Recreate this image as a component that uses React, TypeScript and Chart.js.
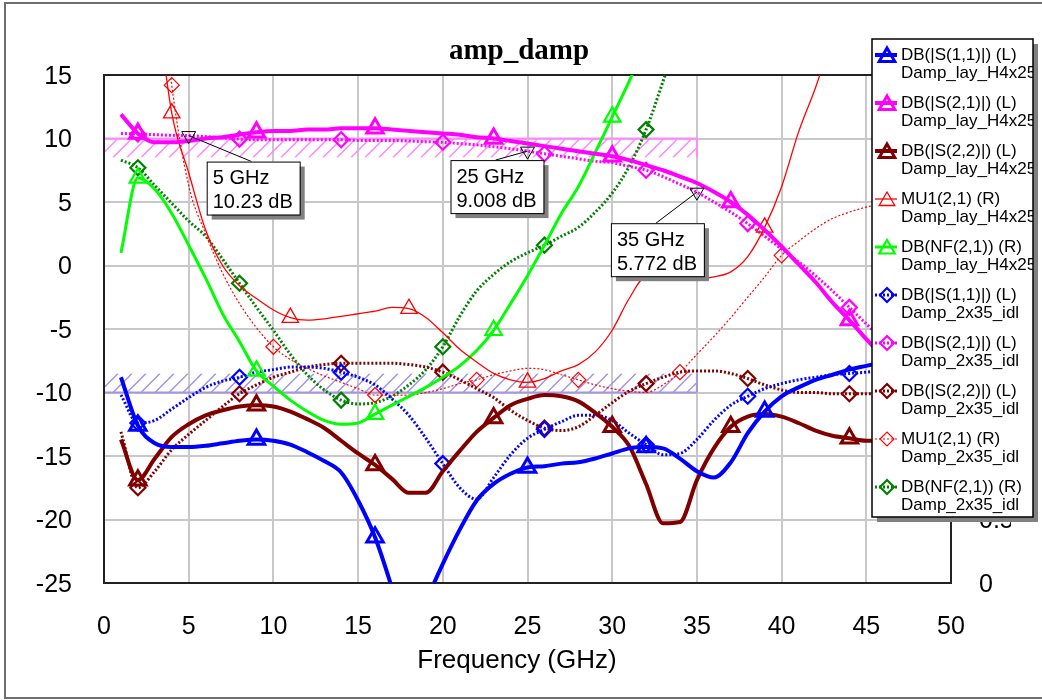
import React, { useEffect, useRef } from "react";
import { Chart, registerables } from "chart.js";

Chart.register(...registerables);

// Swept frequency points (GHz)
const FREQ_GHZ = [
  1, 2, 3, 4, 5, 6, 7, 8, 9, 10, 11, 12, 13, 14, 15, 16, 17, 18, 19, 20, 21, 22, 23, 24, 25,
  26, 27, 28, 29, 30, 31, 32, 33, 34, 35, 36, 37, 38, 39, 40, 41, 42, 43, 44, 45, 46, 47, 48, 49, 50,
];

// Axis tick values
const X_TICKS = [0, 5, 10, 15, 20, 25, 30, 35, 40, 45, 50];
const Y_LEFT_TICKS = [-25, -20, -15, -10, -5, 0, 5, 10, 15];
const Y_RIGHT_TICKS = [0, 0.5, 1, 1.5, 2, 2.5, 3, 3.5, 4];

// Damp_lay_H4x25 (left axis, dB)
const S11_LAY = [
  -8.8, -12.6, -14.0, -14.3, -14.3, -14.2, -14.0, -13.8, -13.7, -13.8,
  -14.1, -14.7, -15.4, -16.3, -18.5, -21.4, -25.4, -30.0, -26.5, -23.5,
  -20.8, -18.5, -17.2, -16.4, -15.9, -15.8, -15.6, -15.5, -15.2, -14.8,
  -14.4, -14.3, -14.4, -15.2, -16.2, -16.7, -15.5, -13.2, -11.5, -10.3,
  -9.6, -9.0, -8.6, -8.2, -7.9, -7.6, -7.3, -7.0, -6.8, -6.6,
];
const S21_LAY = [
  11.9, 10.4, 9.7, 9.7, 9.8, 10.0, 10.1, 10.3, 10.5, 10.6,
  10.6, 10.7, 10.7, 10.8, 10.8, 10.8, 10.7, 10.6, 10.5, 10.4,
  10.3, 10.1, 10.0, 9.8, 9.6, 9.4, 9.2, 9.0, 8.8, 8.6,
  8.3, 7.9, 7.5, 7.0, 6.5, 5.8, 5.0, 4.0, 2.8, 1.5,
  0.1, -1.3, -2.9, -4.3, -5.8, -7.2, -8.5, -9.8, -11.0, -12.2,
];
const S22_LAY = [
  -13.7, -16.9, -15.2, -13.5, -12.5, -11.8, -11.4, -11.1, -11.0, -11.1,
  -11.5, -12.1, -12.8, -13.8, -14.8, -15.7, -16.8, -17.9, -17.9, -16.2,
  -14.6, -13.1, -12.0, -11.0, -10.5, -10.2, -10.3, -10.7, -11.6, -12.7,
  -14.2, -17.2, -20.3, -20.2, -16.9, -14.4, -12.7, -11.9, -11.7, -11.9,
  -12.4, -13.0, -13.4, -13.6, -13.8, -13.8, -13.8, -13.8, -13.8, -13.8,
];
// Damp_lay_H4x25 (right axis)
const MU1_LAY = [
  null, null, 4.7, 3.7, 3.23, 2.78, 2.5, 2.34, 2.24, 2.15,
  2.09, 2.07, 2.08, 2.1, 2.12, 2.14, 2.17, 2.16, 2.09, 1.97,
  1.84, 1.74, 1.65, 1.6, 1.58, 1.61, 1.67, 1.72, 1.82, 1.99,
  2.24, 2.41, 2.4, 2.39, 2.39, 2.41, 2.45, 2.57, 2.8, 3.12,
  3.55, 3.9, 4.3, null, null, null, null, null, null, null,
];
const NF_LAY = [
  2.6, 3.19, 3.1, 2.91, 2.66, 2.4, 2.12, 1.9, 1.67, 1.55,
  1.44, 1.35, 1.28, 1.25, 1.26, 1.33, 1.4, 1.47, 1.54, 1.62,
  1.71, 1.83, 1.99, 2.2, 2.42, 2.66, 2.91, 3.12, 3.39, 3.67,
  3.95, 4.25, 4.56, null, null, null, null, null, null, null,
  null, null, null, null, null, null, null, null, null, null,
];

// Damp_2x35_idl (left axis, dB)
const S11_IDL = [
  -10.2, -12.4, -12.2, -11.3, -10.4, -9.6, -9.1, -8.8, -8.4, -8.2,
  -8.0, -8.0, -8.1, -8.4, -8.8, -9.4, -10.5, -11.8, -13.6, -15.6,
  -17.5, -18.4, -16.7, -14.9, -13.6, -12.9, -12.3, -11.8, -11.8, -12.2,
  -13.2, -14.1, -14.9, -14.8, -13.7, -12.2, -11.0, -10.3, -9.7, -9.3,
  -9.0, -8.8, -8.6, -8.5, -8.4, -8.3, -8.3, -8.3, -8.3, -8.3,
];
const S21_IDL = [
  10.4, 10.35, 10.3, 10.25, 10.23, 10.15, 10.05, 9.95, 9.9, 9.9,
  9.9, 9.9, 9.9, 9.9, 9.85, 9.85, 9.85, 9.8, 9.75, 9.7,
  9.6, 9.5, 9.35, 9.2, 9.008, 8.8, 8.6, 8.4, 8.2, 8.1,
  7.8, 7.5, 7.0, 6.4, 5.772, 5.0, 4.2, 3.3, 2.3, 1.3,
  0.3, -0.8, -2.0, -3.3, -4.6, -5.9, -7.1, -8.3, -9.5, -10.6,
];
const S22_IDL = [
  -13.1, -17.5, -16.2, -14.5, -13.3, -12.2, -11.1, -10.1, -9.4, -8.8,
  -8.4, -8.0, -7.8, -7.7, -7.7, -7.7, -7.7, -7.8, -8.0, -8.4,
  -9.0, -9.7, -10.4, -11.4, -12.2, -12.8, -13.0, -12.7, -11.8, -10.8,
  -9.9, -9.3, -8.8, -8.4, -8.3, -8.3, -8.5, -8.9, -9.4, -9.8,
  -10.0, -10.0, -10.1, -10.1, -10.1, -10.1, -10.1, -10.1, -10.1, -10.1,
];
// Damp_2x35_idl (right axis)
const MU1_IDL = [
  null, null, 5.2, 3.92, 3.13, 2.75, 2.44, 2.2, 2.01, 1.86,
  1.76, 1.69, 1.63, 1.58, 1.53, 1.48, 1.48, 1.48, 1.5, 1.53,
  1.57, 1.6, 1.64, 1.67, 1.69, 1.68, 1.64, 1.6, 1.56, 1.53,
  1.51, 1.5, 1.56, 1.66, 1.8, 1.94, 2.09, 2.25, 2.41, 2.58,
  2.69, 2.79, 2.87, 2.92, 2.96, 2.99, 3.02, 3.04, 3.06, 3.08,
];
const NF_IDL = [
  3.33, 3.27, 3.13, 2.99, 2.85, 2.73, 2.55, 2.36, 2.17, 1.99,
  1.8, 1.64, 1.52, 1.44, 1.41, 1.42, 1.47, 1.56, 1.68, 1.86,
  2.1, 2.3, 2.43, 2.53, 2.6, 2.66, 2.73, 2.8, 2.92, 3.07,
  3.28, 3.57, 3.95, 4.35, null, null, null, null, null, null,
  null, null, null, null, null, null, null, null, null, null,
];

// Frequencies carrying a trace symbol
const MARK_S11_LAY = [2, 9, 16, 25, 32, 39, 46];
const MARK_S21_LAY = [2, 9, 16, 23, 30, 37, 44];
const MARK_S22_LAY = [2, 9, 16, 23, 30, 37, 44];
const MARK_MU1_LAY = [4, 11, 18, 25, 39];
const MARK_NF_LAY = [2, 9, 16, 23, 30];
const MARK_S11_IDL = [2, 8, 14, 20, 26, 32, 38, 44, 50];
const MARK_S21_IDL = [2, 8, 14, 20, 26, 32, 38, 44, 50];
const MARK_S22_IDL = [2, 8, 14, 20, 26, 32, 38, 44, 50];
const MARK_MU1_IDL = [4, 10, 16, 22, 28, 34, 40, 46];
const MARK_NF_IDL = [2, 8, 14, 20, 26, 32];

// Optimization goals (left axis): ">" must stay above level, "<" must stay below
const GOAL_START_GHZ = [0, 0];
const GOAL_STOP_GHZ = [35, 35];
const GOAL_LEVEL_DB = [10, -10];
const GOAL_TYPE = [">", "<"];
const GOAL_COLOR = ["#ff88ff", "#a596e2"];

// Readout markers on DB(|S(2,1)|) Damp_2x35_idl
const MARKER_FREQ_GHZ = [5, 25, 35];
const MARKER_VALUE_DB = [10.23, 9.008, 5.772];
const MARKER_BOX_OFFSET = [
  [18, 26],
  [-77, 9],
  [-86, 31],
];

type Trace = {
  label: string;
  source: string;
  values: (number | null)[];
  axis: "y" | "y2";
  color: string;
  width: number;
  dash: number[];
  symbol: "triangle" | "rectRot";
  symbolRadius: number;
  symbolWidth: number;
  marks: number[];
};

const LAY = "Damp_lay_H4x25";
const IDL = "Damp_2x35_idl";
const DOT = [2, 2];

const TRACES: Trace[] = [
  { label: "DB(|S(1,1)|) (L)", source: LAY, values: S11_LAY, axis: "y", color: "#0000ff", width: 4, dash: [], symbol: "triangle", symbolRadius: 9.5, symbolWidth: 3, marks: MARK_S11_LAY },
  { label: "DB(|S(2,1)|) (L)", source: LAY, values: S21_LAY, axis: "y", color: "#ff00ff", width: 4, dash: [], symbol: "triangle", symbolRadius: 9.5, symbolWidth: 3, marks: MARK_S21_LAY },
  { label: "DB(|S(2,2)|) (L)", source: LAY, values: S22_LAY, axis: "y", color: "#800000", width: 4, dash: [], symbol: "triangle", symbolRadius: 9.5, symbolWidth: 3, marks: MARK_S22_LAY },
  { label: "MU1(2,1) (R)", source: LAY, values: MU1_LAY, axis: "y2", color: "#ff0000", width: 1.3, dash: [], symbol: "triangle", symbolRadius: 9.5, symbolWidth: 1.3, marks: MARK_MU1_LAY },
  { label: "DB(NF(2,1)) (R)", source: LAY, values: NF_LAY, axis: "y2", color: "#00ff00", width: 3, dash: [], symbol: "triangle", symbolRadius: 9.5, symbolWidth: 2.2, marks: MARK_NF_LAY },
  { label: "DB(|S(1,1)|) (L)", source: IDL, values: S11_IDL, axis: "y", color: "#0000ff", width: 3, dash: DOT, symbol: "rectRot", symbolRadius: 7.5, symbolWidth: 2.2, marks: MARK_S11_IDL },
  { label: "DB(|S(2,1)|) (L)", source: IDL, values: S21_IDL, axis: "y", color: "#ff00ff", width: 3, dash: DOT, symbol: "rectRot", symbolRadius: 7.5, symbolWidth: 2.2, marks: MARK_S21_IDL },
  { label: "DB(|S(2,2)|) (L)", source: IDL, values: S22_IDL, axis: "y", color: "#800000", width: 3, dash: DOT, symbol: "rectRot", symbolRadius: 7.5, symbolWidth: 2.2, marks: MARK_S22_IDL },
  { label: "MU1(2,1) (R)", source: IDL, values: MU1_IDL, axis: "y2", color: "#ff0000", width: 1.2, dash: DOT, symbol: "rectRot", symbolRadius: 7.5, symbolWidth: 1.2, marks: MARK_MU1_IDL },
  { label: "DB(NF(2,1)) (R)", source: IDL, values: NF_IDL, axis: "y2", color: "#008000", width: 3, dash: DOT, symbol: "rectRot", symbolRadius: 7.5, symbolWidth: 2.2, marks: MARK_NF_IDL },
];

const SANS = '"Liberation Sans", Arial, sans-serif';

function symbolPath(ctx: CanvasRenderingContext2D, symbol: string, x: number, y: number, r: number) {
  ctx.beginPath();
  if (symbol === "triangle") {
    ctx.moveTo(x, y - r);
    ctx.lineTo(x + r * Math.sin((2 * Math.PI) / 3), y + r / 2);
    ctx.lineTo(x - r * Math.sin((2 * Math.PI) / 3), y + r / 2);
  } else {
    ctx.moveTo(x - r, y);
    ctx.lineTo(x, y - r);
    ctx.lineTo(x + r, y);
    ctx.lineTo(x, y + r);
  }
  ctx.closePath();
}

const backgroundPlugin = {
  id: "background",
  beforeDraw(chart: any) {
    const { ctx, width, height } = chart;
    ctx.save();
    ctx.fillStyle = "#ffffff";
    ctx.fillRect(0, 0, width, height);
    ctx.restore();
  },
};

// Hatched goal bands and plot frame, beneath the traces
const goalPlugin = {
  id: "goals",
  beforeDatasetsDraw(chart: any) {
    const { ctx, chartArea, scales } = chart;
    const band = 19;
    const pitch = 14;
    ctx.save();
    ctx.beginPath();
    ctx.rect(chartArea.left, chartArea.top, chartArea.right - chartArea.left, chartArea.bottom - chartArea.top);
    ctx.clip();
    GOAL_LEVEL_DB.forEach((level, i) => {
      const x0 = scales.x.getPixelForValue(GOAL_START_GHZ[i]);
      const x1 = scales.x.getPixelForValue(GOAL_STOP_GHZ[i]);
      const yl = scales.y.getPixelForValue(level);
      const yTop = GOAL_TYPE[i] === ">" ? yl : yl - band;
      const yBot = yTop + band;
      ctx.strokeStyle = GOAL_COLOR[i];
      ctx.lineWidth = 2;
      ctx.beginPath();
      ctx.moveTo(x0, yl);
      ctx.lineTo(x1, yl);
      ctx.moveTo(x1, yTop);
      ctx.lineTo(x1, yBot);
      ctx.stroke();
      ctx.save();
      ctx.beginPath();
      ctx.rect(x0, yTop, x1 - x0, band);
      ctx.clip();
      ctx.lineWidth = 1.5;
      ctx.beginPath();
      for (let hx = x0 - band; hx < x1 + band; hx += pitch) {
        ctx.moveTo(hx, yBot);
        ctx.lineTo(hx + band, yTop);
      }
      ctx.stroke();
      ctx.restore();
    });
    ctx.restore();

    ctx.save();
    ctx.strokeStyle = "#222222";
    ctx.lineWidth = 2;
    ctx.strokeRect(chartArea.left, chartArea.top, chartArea.right - chartArea.left, chartArea.bottom - chartArea.top);
    ctx.restore();
  },
};

// Marker readout boxes
const markerPlugin = {
  id: "readouts",
  afterDatasetsDraw(chart: any) {
    const { ctx, scales } = chart;
    const bw = 93;
    const bh = 53;
    ctx.save();
    MARKER_FREQ_GHZ.forEach((f, i) => {
      const px = scales.x.getPixelForValue(f);
      const py = scales.y.getPixelForValue(MARKER_VALUE_DB[i]);
      const bx = px + MARKER_BOX_OFFSET[i][0];
      const by = py + MARKER_BOX_OFFSET[i][1];
      // leader
      ctx.strokeStyle = "#000000";
      ctx.lineWidth = 1;
      ctx.beginPath();
      ctx.moveTo(bx + 45, by);
      ctx.lineTo(px, py);
      ctx.stroke();
      // inverted triangle
      ctx.beginPath();
      ctx.moveTo(px - 7, py - 4);
      ctx.lineTo(px + 7, py - 4);
      ctx.lineTo(px, py + 8);
      ctx.closePath();
      ctx.stroke();
      // box
      ctx.fillStyle = "#808080";
      ctx.fillRect(bx + 5, by + 5, bw, bh);
      ctx.fillStyle = "#ffffff";
      ctx.fillRect(bx, by, bw, bh);
      ctx.strokeRect(bx + 0.5, by + 0.5, bw, bh);
      ctx.fillStyle = "#000000";
      ctx.font = `20px ${SANS}`;
      ctx.textAlign = "left";
      ctx.textBaseline = "middle";
      ctx.fillText(`${f} GHz`, bx + 6, by + 17);
      ctx.fillText(`${MARKER_VALUE_DB[i]} dB`, bx + 6, by + 41);
    });
    ctx.restore();
  },
};

// Title, axis caption, legend and outer frame
const decorPlugin = {
  id: "decor",
  afterDraw(chart: any) {
    const { ctx } = chart;
    ctx.save();
    ctx.fillStyle = "#000000";
    ctx.textAlign = "center";
    ctx.textBaseline = "alphabetic";
    ctx.font = `bold 29px "Liberation Serif", "Times New Roman", serif`;
    ctx.fillText("amp_damp", 519, 59);
    ctx.font = `26px ${SANS}`;
    ctx.fillText("Frequency (GHz)", 517, 668);

    // legend
    const lx = 872;
    const ly = 39;
    const lw = 161;
    const lh = 478;
    ctx.fillStyle = "#808080";
    ctx.fillRect(lx + 5, ly + 5, lw, lh);
    ctx.fillStyle = "#ffffff";
    ctx.fillRect(lx, ly, lw, lh);
    ctx.strokeStyle = "#000000";
    ctx.lineWidth = 1.5;
    ctx.strokeRect(lx, ly, lw, lh);

    ctx.save();
    ctx.beginPath();
    ctx.rect(lx, ly, lw, lh);
    ctx.clip();
    TRACES.forEach((t, i) => {
      const y = ly + 16 + i * 48;
      ctx.strokeStyle = t.color;
      ctx.lineWidth = t.width;
      ctx.setLineDash(t.dash);
      ctx.beginPath();
      ctx.moveTo(lx + 3, y);
      ctx.lineTo(lx + 25, y);
      ctx.stroke();
      ctx.setLineDash([]);
      ctx.lineWidth = t.symbolWidth;
      symbolPath(ctx, t.symbol, lx + 15, y + (t.symbol === "triangle" ? 2 : 0), t.symbol === "triangle" ? 9 : 7);
      ctx.stroke();
      ctx.fillStyle = "#000000";
      ctx.font = `17px ${SANS}`;
      ctx.textAlign = "left";
      ctx.textBaseline = "middle";
      ctx.fillText(t.label, lx + 29, y);
      ctx.fillText(t.source, lx + 29, y + 18);
    });
    ctx.restore();

    // outer frame
    ctx.strokeStyle = "#6e6e6e";
    ctx.lineWidth = 2;
    ctx.strokeRect(5, 3, 1050, 695);
    ctx.restore();
  },
};

const tickFont = { family: SANS, size: 25 };

export default function App() {
  const canvasRef = useRef<HTMLCanvasElement>(null);

  useEffect(() => {
    const canvas = canvasRef.current;
    if (!canvas) return;

    const datasets = TRACES.map((t) => ({
      label: `${t.label} ${t.source}`,
      data: FREQ_GHZ.map((f, i) => ({ x: f, y: t.values[i] })),
      yAxisID: t.axis,
      borderColor: t.color,
      borderWidth: t.width,
      borderDash: t.dash,
      backgroundColor: "rgba(0,0,0,0)",
      fill: false,
      cubicInterpolationMode: "monotone" as const,
      pointStyle: t.symbol,
      pointBorderColor: t.color,
      pointBackgroundColor: "rgba(0,0,0,0)",
      pointBorderWidth: t.symbolWidth,
      pointRadius: (c: any) => (t.marks.includes(FREQ_GHZ[c.dataIndex]) ? t.symbolRadius : 0),
      pointHoverRadius: 0,
    }));

    const chart = new Chart(canvas, {
      type: "line",
      data: { datasets: datasets as any },
      options: {
        responsive: false,
        animation: false,
        devicePixelRatio: 1,
        events: [],
        layout: { padding: { left: 0, top: 75, right: 31, bottom: 0 } },
        plugins: { legend: { display: false }, tooltip: { enabled: false }, title: { display: false } },
        scales: {
          x: {
            type: "linear",
            min: 0,
            max: 50,
            afterBuildTicks: (s: any) => {
              s.ticks = X_TICKS.map((v) => ({ value: v }));
            },
            afterFit: (s: any) => {
              s.height = 117;
            },
            ticks: { font: tickFont, color: "#000000", padding: 29, maxRotation: 0, autoSkip: false },
            grid: { color: "#c8c8c8", lineWidth: 2, drawTicks: false },
            border: { display: false },
          },
          y: {
            type: "linear",
            position: "left",
            min: -25,
            max: 15,
            afterBuildTicks: (s: any) => {
              s.ticks = Y_LEFT_TICKS.map((v) => ({ value: v }));
            },
            afterFit: (s: any) => {
              s.width = 104;
            },
            ticks: { font: tickFont, color: "#000000", padding: 32, autoSkip: false, labelOffset: 2 },
            grid: { color: "#c8c8c8", lineWidth: 2, drawTicks: false },
            border: { display: false },
          },
          y2: {
            type: "linear",
            position: "right",
            min: 0,
            max: 4,
            afterBuildTicks: (s: any) => {
              s.ticks = Y_RIGHT_TICKS.map((v) => ({ value: v }));
            },
            afterFit: (s: any) => {
              s.width = 60;
            },
            ticks: { font: tickFont, color: "#000000", padding: 28, autoSkip: false, labelOffset: 2 },
            grid: { display: false, drawTicks: false },
            border: { display: false },
          },
        },
      },
      plugins: [backgroundPlugin, goalPlugin, markerPlugin, decorPlugin],
    });

    return () => chart.destroy();
  }, []);

  return (
    <div style={{ position: "fixed", left: 0, top: 0, width: 1042, height: 700, background: "#ffffff" }}>
      <canvas ref={canvasRef} width={1042} height={700} style={{ display: "block", width: 1042, height: 700 }} />
    </div>
  );
}
